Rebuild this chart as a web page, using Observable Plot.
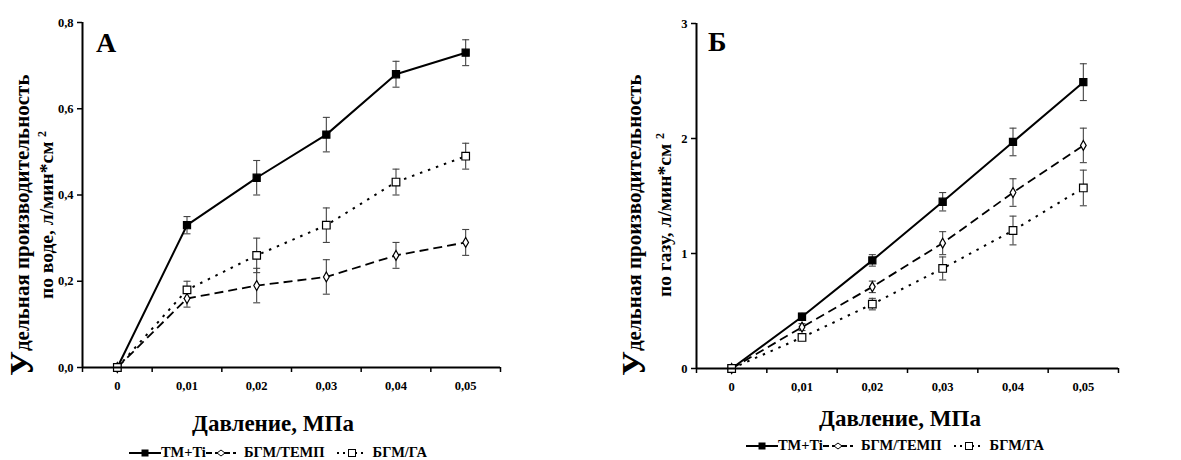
<!DOCTYPE html>
<html>
<head>
<meta charset="utf-8">
<script src="https://cdn.jsdelivr.net/npm/d3@7"></script>
<script src="https://cdn.jsdelivr.net/npm/@observablehq/plot@0.6"></script>
<style>
  html, body { margin: 0; padding: 0; background: #fff; }
  #root { position: relative; width: 1181px; height: 460px; overflow: hidden; font-family: "Liberation Serif", "DejaVu Serif", serif; font-weight: bold; color: #000; }
  .panel { position: absolute; top: 0; }
  .vt { position: absolute; writing-mode: vertical-rl; transform: rotate(180deg); white-space: nowrap; text-align: center; line-height: 1; font-weight: bold; }
  .big { font-size: 34px; }
  .xt { position: absolute; font-size: 23px; white-space: nowrap; transform: translateX(-50%); }
  .letter { position: absolute; font-size: 28px; }
  .legend { position: absolute; font-size: 14.5px; white-space: nowrap; transform: translateX(-50%); display: flex; align-items: center; }
  .legend svg { display: block; }
  .sup { font-size: 12px; position: relative; left: 5px; }
</style>
</head>
<body>
<div id="root"></div>
<script>
// ---- data ----
const pressure = [0, 0.01, 0.02, 0.03, 0.04, 0.05];
const seriesNames = ["ТМ+Ti", "БГМ/ТЕМП", "БГМ/ГА"];

// Panel А: water
const waterTM = [0, 0.33, 0.44, 0.54, 0.68, 0.73];
const waterTMErr = [0, 0.02, 0.04, 0.04, 0.03, 0.03];
const waterTEMP = [0, 0.16, 0.19, 0.21, 0.26, 0.29];
const waterTEMPErr = [0, 0.02, 0.04, 0.04, 0.03, 0.03];
const waterGA = [0, 0.18, 0.26, 0.33, 0.43, 0.49];
const waterGAErr = [0, 0.02, 0.04, 0.04, 0.03, 0.03];

// Panel Б: gas
const gasTM = [0, 0.45, 0.94, 1.45, 1.97, 2.49];
const gasTMErr = [0, 0.03, 0.05, 0.08, 0.12, 0.16];
const gasTEMP = [0, 0.36, 0.71, 1.09, 1.53, 1.94];
const gasTEMPErr = [0, 0.03, 0.05, 0.1, 0.12, 0.15];
const gasGA = [0, 0.27, 0.56, 0.87, 1.2, 1.57];
const gasGAErr = [0, 0.02, 0.05, 0.1, 0.125, 0.155];

const xCategoryEdges = [-0.005, 0.005, 0.015, 0.025, 0.035, 0.045, 0.055];
const waterTicks = [0, 0.2, 0.4, 0.6, 0.8];
const gasTicks = [0, 1, 2, 3];

// ---- helpers ----
function table(values, errs, name) {
  return pressure.map((p, i) => ({ p, v: values[i], e: errs[i], s: name }));
}
const cap = {
  draw(context, size) {
    const h = Math.sqrt(size / Math.PI);
    context.moveTo(-h, 0);
    context.lineTo(h, 0);
  }
};
const styles = {
  "ТМ+Ti": { dash: null, width: 2, symbol: "square", r: 4, fill: "#000" },
  "БГМ/ТЕМП": { dash: "9,5", width: 1.8, symbol: "diamond", r: 3, fill: "#fff" },
  "БГМ/ГА": { dash: "2.5,6", width: 2, symbol: "square", r: 4.3, fill: "#fff" }
};
const fmtComma = (d, n) => d.toFixed(n).replace(".", ",");
const FONT = "Liberation Serif, DejaVu Serif, serif";

function panel({ series, yDomain, yTicks, yFmt, width, height, ml, mr, mt, mb }) {
  const marks = [];
  for (const s of series) {
    const d = s.filter(r => r.e > 0);
    marks.push(Plot.ruleX(d, { x: "p", y1: r => r.v - r.e, y2: r => r.v + r.e, stroke: "#444", strokeWidth: 1.1 }));
    marks.push(Plot.dot(d, { x: "p", y: r => r.v + r.e, symbol: cap, r: 3.5, stroke: "#444", strokeWidth: 1.1 }));
    marks.push(Plot.dot(d, { x: "p", y: r => r.v - r.e, symbol: cap, r: 3.5, stroke: "#444", strokeWidth: 1.1 }));
  }
  for (const s of series) {
    const st = styles[s[0].s];
    marks.push(Plot.line(s, { x: "p", y: "v", stroke: "#000", strokeWidth: st.width, strokeDasharray: st.dash, strokeLinecap: "butt" }));
  }
  for (const s of series) {
    const st = styles[s[0].s];
    marks.push(Plot.dot(s, { x: "p", y: "v", symbol: st.symbol, r: st.r, fill: st.fill, stroke: "#000", strokeWidth: 1.2 }));
  }
  marks.push(Plot.ruleY([yDomain[0]], { stroke: "#000", strokeWidth: 2 }));
  marks.push(Plot.ruleX([xCategoryEdges[0]], { stroke: "#000", strokeWidth: 2 }));
  marks.push(Plot.axisX(xCategoryEdges, { tickSize: 5, tickFormat: () => "", stroke: "#000", strokeWidth: 1.5 }));
  marks.push(Plot.axisX(pressure, { tickSize: 0, tickPadding: 14, tickFormat: d => d === 0 ? "0" : fmtComma(d, 2), fontSize: 12.5, fontWeight: "bold", fill: "#000", fontFamily: FONT }));
  marks.push(Plot.axisY(yTicks, { tickSize: 5, tickPadding: 4, tickFormat: yFmt, stroke: "#000", strokeWidth: 1.5, fontSize: 12.5, fontWeight: "bold", fill: "#000", fontFamily: FONT }));
  return Plot.plot({
    width, height,
    marginLeft: ml, marginRight: mr, marginTop: mt, marginBottom: mb,
    x: { domain: [xCategoryEdges[0], xCategoryEdges[xCategoryEdges.length - 1]], label: null },
    y: { domain: yDomain, label: null },
    style: { fontFamily: FONT, fontWeight: "bold", fontSize: "12.5px", background: "transparent", color: "#000" },
    marks
  });
}

const root = document.getElementById("root");

const left = panel({
  series: [table(waterTM, waterTMErr, seriesNames[0]), table(waterTEMP, waterTEMPErr, seriesNames[1]), table(waterGA, waterGAErr, seriesNames[2])],
  yDomain: [0, 0.8], yTicks: waterTicks, yFmt: d => fmtComma(d, 1),
  width: 590, height: 400, ml: 82, mr: 90, mt: 22, mb: 33
});
left.classList.add("panel");
left.style.left = "0px";
root.appendChild(left);

const right = panel({
  series: [table(gasTM, gasTMErr, seriesNames[0]), table(gasTEMP, gasTEMPErr, seriesNames[1]), table(gasGA, gasGAErr, seriesNames[2])],
  yDomain: [0, 3], yTicks: gasTicks, yFmt: d => String(d),
  width: 591, height: 400, ml: 106, mr: 63, mt: 23, mb: 32
});
right.classList.add("panel");
right.style.left = "590px";
root.appendChild(right);

function addHTML(html) {
  const t = document.createElement("template");
  t.innerHTML = html.trim();
  const el = t.content.firstChild;
  root.appendChild(el);
  return el;
}
// y titles
addHTML(`<div class="vt" style="left:5px;top:70px;height:310px;font-size:21px;"><span class="big">У</span>дельная производительность</div>`);
addHTML(`<div class="vt" style="left:37px;top:110px;height:210px;font-size:19.5px;">по воде, л/мин*см <span class="sup">2</span></div>`);
addHTML(`<div class="vt" style="left:617px;top:70px;height:310px;font-size:21px;"><span class="big">У</span>дельная производительность</div>`);
addHTML(`<div class="vt" style="left:655px;top:110px;height:210px;font-size:19.5px;">по газу, л/мин*см <span class="sup">2</span></div>`);
// x titles
addHTML(`<div class="xt" style="left:273px;top:411px;">Давление, МПа</div>`);
addHTML(`<div class="xt" style="left:900px;top:406px;">Давление, МПа</div>`);
// panel letters
addHTML(`<div class="letter" style="left:96px;top:27px;">А</div>`);
addHTML(`<div class="letter" style="left:708px;top:26px;">Б</div>`);

function swatch(name, w) {
  const st = styles[name];
  const h = 12, cy = 6, cx = w / 2;
  const dash = st.dash ? `stroke-dasharray="${name === "БГМ/ГА" ? "2,4" : "6,3"}"` : "";
  let m;
  if (name === "ТМ+Ti") m = `<rect x="${cx - 3.5}" y="${cy - 3.5}" width="7" height="7" fill="#000"/>`;
  else if (name === "БГМ/ТЕМП") m = `<path d="M${cx - 4},${cy} L${cx},${cy - 3} L${cx + 4},${cy} L${cx},${cy + 3} Z" fill="#fff" stroke="#000" stroke-width="1"/>`;
  else m = `<rect x="${cx - 3.5}" y="${cy - 3.5}" width="7" height="7" fill="#fff" stroke="#000" stroke-width="1"/>`;
  return `<svg width="${w}" height="${h}"><line x1="0" x2="${w}" y1="${cy}" y2="${cy}" stroke="#000" stroke-width="${st.width}" ${dash}/>${m}</svg>`;
}
function legendHTML() {
  return `<div class="legend">${swatch(seriesNames[0], 32)}<span>${seriesNames[0]}</span>${swatch(seriesNames[1], 30)}<span style="margin-left:8px">${seriesNames[1]}</span><span style="width:12px"></span>${swatch(seriesNames[2], 30)}<span style="margin-left:6px">${seriesNames[2]}</span></div>`;
}
const l1 = addHTML(legendHTML()); l1.style.left = "278px"; l1.style.top = "444px";
const l2 = addHTML(legendHTML()); l2.style.left = "895px"; l2.style.top = "437px";
</script>
</body>
</html>
